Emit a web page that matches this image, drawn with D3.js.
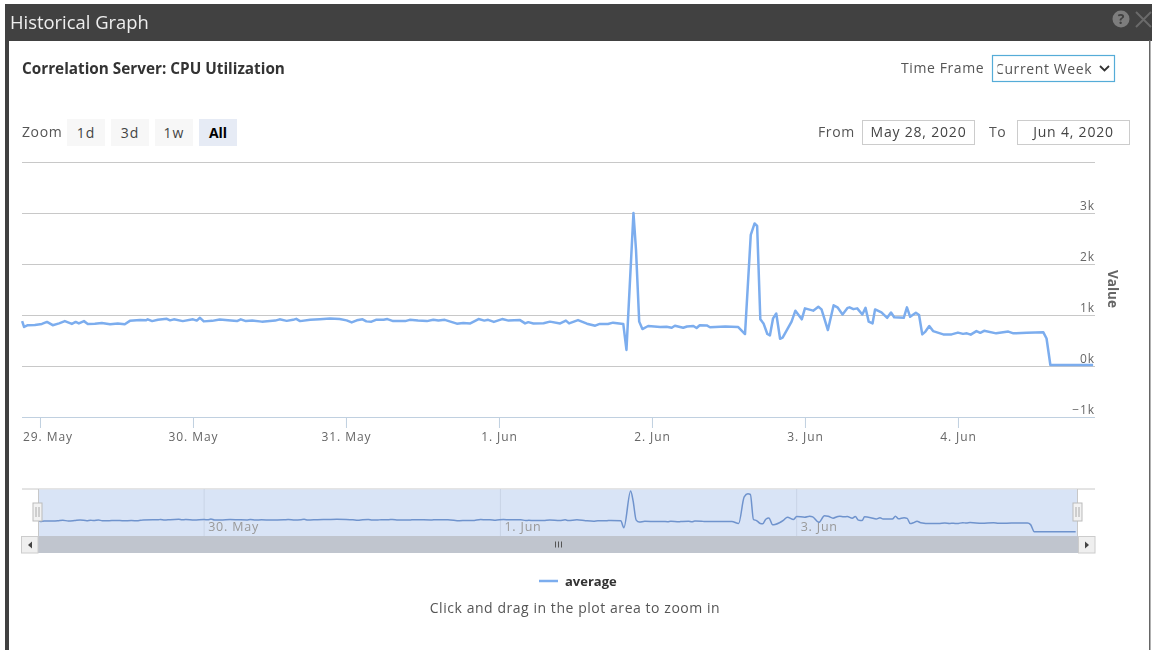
<!DOCTYPE html>
<html>
<head>
<meta charset="utf-8">
<title>Historical Graph</title>
<script src="https://cdn.jsdelivr.net/npm/d3@7"></script>
<style>
    html, body { margin: 0; padding: 0; background: #fff; overflow: hidden; }
    svg { display: block; font-family: "Open Sans", sans-serif; filter: blur(0.4px); }
    .axis .domain { display: none; }
    .ytick line { stroke: #c8c8c8; }
    .ytick text, .xtick text { fill: #666; font-size: 12px; letter-spacing: 0.9px; font-family: "Open Sans", sans-serif; }
    .xtick line { stroke: #c0d0e0; }
    .label { fill: #555; font-size: 14px; letter-spacing: 0.6px; }
</style>
</head>
<body>
<svg id="chart" width="1153" height="650"></svg>
<script>
// hours since 29 May 00:00 (UTC)
var hours = [-2.8, -2.5, -1.9, -0.8, 0.3, 1.1, 2, 3, 3.9, 5, 5.6, 6.1, 6.9, 7.5, 8.6, 9.7, 11, 12.2, 13.3, 14.1,
    15.7, 16.6, 16.9, 17.6, 18.5, 19.9, 20.4, 21, 22.4, 24, 24.6, 25.1, 25.7, 27, 28.2, 29.5, 30.9, 31.5, 32.3, 33.3,
    34.8, 36.9, 37.6, 38.7, 39.7, 40.2, 40.8, 42.4, 43.9, 45.5, 47, 48.1, 48.9, 49.7, 50.6, 51.2, 52, 52.7, 53.9, 54.5,
    55.4, 57.3, 58, 59.3, 60.7, 61.7, 62.5, 63.5, 65.4, 66.4, 67.5, 68.8, 69.7, 70.3, 71.2, 72.5, 73.5, 75.3, 76.1, 76.6,
    77.4, 79, 80, 81.6, 82.5, 83, 84.4, 85.8, 87.1, 87.8, 89.1, 89.9, 91.5, 92, 93.1, 93.5, 94, 94.5, 95.4, 97.3,
    98.3, 99.1, 99.6, 100.9, 101.5, 102.5, 103, 103.5, 104.6, 105.1, 106.7, 107.5, 109.5, 110.6, 111.5, 112.1, 112.5, 113, 113.5, 114.1,
    114.5, 115, 115.5, 116.1, 116.5, 117.9, 118.5, 119.5, 120, 121.3, 122.1, 122.6, 123.6, 124.5, 125.1, 125.9, 126.7, 127, 127.6, 128.2,
    129, 129.5, 130, 130.6, 131, 132, 132.9, 133.5, 134, 135.5, 136, 136.5, 137.4, 137.9, 138.4, 138.9, 139.5, 140.1, 141.7, 143,
    144, 144.8, 145.4, 146, 146.9, 147.5, 148.1, 150, 151.9, 152.7, 154.8, 157.4, 157.9, 158.5, 165.2];

var average = [880, 765, 800, 805, 825, 865, 800, 835, 880, 825, 865, 835, 880, 825, 830, 845, 820, 835, 820, 885,
    900, 895, 915, 880, 905, 925, 895, 915, 880, 915, 890, 945, 875, 885, 910, 895, 880, 915, 880, 890,
    870, 890, 915, 885, 905, 925, 880, 905, 915, 930, 920, 895, 855, 895, 915, 875, 870, 905, 905, 920,
    880, 880, 905, 890, 880, 905, 890, 905, 830, 845, 835, 920, 890, 905, 865, 920, 890, 900, 835, 860,
    835, 840, 870, 835, 890, 835, 900, 830, 790, 825, 825, 850, 825, 315, 3000, 2275, 870, 725, 784, 765,
    770, 750, 790, 750, 775, 784, 745, 800, 795, 760, 770, 775, 765, 627, 2570, 2795, 2745, 915, 835, 627,
    600, 935, 1030, 535, 555, 870, 1085, 915, 1130, 1085, 1160, 1110, 705, 1190, 1150, 1010, 1140, 1150, 1115, 1130,
    1010, 1140, 870, 835, 1110, 1050, 945, 1050, 955, 945, 1150, 965, 1045, 1000, 620, 675, 785, 685, 620, 620,
    655, 630, 640, 615, 685, 650, 690, 640, 675, 640, 650, 660, 540, 20, 20];

var yTicks = [-1000, 0, 1000, 2000, 3000, 4000];
var dayTicks = ["2020-05-29", "2020-05-30", "2020-05-31", "2020-06-01", "2020-06-02", "2020-06-03", "2020-06-04"];
var dayLabels = ["29. May", "30. May", "31. May", "1. Jun", "2. Jun", "3. Jun", "4. Jun"];
var navTicks = ["2020-05-30", "2020-06-01", "2020-06-03"];
var navLabels = ["30. May", "1. Jun", "3. Jun"];
var zoomButtons = ["1d", "3d", "1w", "All"];

var start = Date.UTC(2020, 4, 29);
function hourToDate(h) { return new Date(start + h * 3600000); }
var points = hours.map(function(h, i) { return { date: hourToDate(h), value: average[i] }; });

var margin = { top: 162, right: 58, bottom: 233, left: 22 };
var width = 1153 - margin.left - margin.right;
var height = 650 - margin.top - margin.bottom;

var svg = d3.select("#chart");

var x = d3.scaleUtc()
    .domain([hourToDate(-2.82), hourToDate(165.5)])
    .range([margin.left, margin.left + width]);

var y = d3.scaleLinear()
    .domain([-1000, 4000])
    .range([margin.top + height, margin.top]);

// navigator
var navX = d3.scaleUtc()
    .domain(x.domain())
    .range([38.6, 1077.5]);

var navY = d3.scaleLinear()
    .domain([0, 3000])
    .range([532, 491]);

drawFrame();
drawHeader();
drawMainChart();
drawNavigator();
drawLegend();

function drawFrame() {
    svg.append("rect").attr("x", 5).attr("y", 4).attr("width", 1147).attr("height", 37).attr("fill", "#414141");
    svg.append("rect").attr("x", 5).attr("y", 4).attr("width", 4).attr("height", 646).attr("fill", "#414141");
    svg.append("rect").attr("x", 1149).attr("y", 40).attr("width", 1.5).attr("height", 610).attr("fill", "#666");

    svg.append("text").attr("x", 10).attr("y", 29)
        .attr("fill", "#eee").style("font-size", "18.4px").text("Historical Graph");

    // help + close icons
    svg.append("circle").attr("cx", 1121).attr("cy", 19).attr("r", 8.5).attr("fill", "#7d7d7d");
    svg.append("text").attr("x", 1121).attr("y", 24).attr("text-anchor", "middle")
        .attr("fill", "#414141").style("font-size", "14px").style("font-weight", 700).text("?");
    svg.append("path").attr("d", "M1136,12L1151,27M1151,12L1136,27")
        .attr("stroke", "#6a6a6a").attr("stroke-width", 2).attr("fill", "none");
}

function drawHeader() {
    svg.append("text").attr("x", 22).attr("y", 74)
        .attr("fill", "#333").style("font-size", "15.3px").style("font-weight", 700)
        .text("Correlation Server: CPU Utilization");

    svg.append("text").attr("class", "label").attr("x", 901).attr("y", 73).text("Time Frame");

    // the select box, first letter is cut off in the original
    svg.append("clipPath").attr("id", "selectClip")
        .append("rect").attr("x", 997.5).attr("y", 55).attr("width", 113).attr("height", 27);
    svg.append("rect").attr("x", 992.5).attr("y", 55.5).attr("width", 122).attr("height", 26)
        .attr("fill", "#fff").attr("stroke", "#55acd8").attr("stroke-width", 1.2);
    svg.append("text").attr("class", "label").attr("x", 995).attr("y", 74)
        .attr("clip-path", "url(#selectClip)").text("Current Week");
    svg.append("path").attr("d", "M1100,66L1104.5,70.5L1109,66")
        .attr("fill", "none").attr("stroke", "#333").attr("stroke-width", 1.8);

    // zoom buttons
    svg.append("text").attr("class", "label").attr("x", 22).attr("y", 137).text("Zoom");
    var btn = svg.selectAll("g.zoomBtn")
        .data(zoomButtons)
        .enter()
        .append("g")
        .attr("class", "zoomBtn")
        .attr("transform", function(d, i) { return "translate(" + (67 + i * 44) + ",119)"; });
    btn.append("rect").attr("width", 38).attr("height", 27)
        .attr("fill", function(d) { return d == "All" ? "#e6ebf5" : "#f7f7f7"; });
    btn.append("text").attr("x", 19).attr("y", 18.5).attr("text-anchor", "middle")
        .attr("fill", function(d) { return d == "All" ? "#000" : "#444"; })
        .style("font-size", "14px")
        .style("letter-spacing", function(d) { return d == "All" ? "0" : "1px"; })
        .style("font-weight", function(d) { return d == "All" ? 700 : 400; })
        .text(function(d) { return d; });

    // date inputs
    svg.append("text").attr("class", "label").attr("x", 818).attr("y", 137).text("From");
    svg.append("text").attr("class", "label").attr("x", 989).attr("y", 137).text("To");
    [[862.5, "May 28, 2020"], [1017.5, "Jun 4, 2020"]].forEach(function(f) {
        svg.append("rect").attr("x", f[0]).attr("y", 120.5).attr("width", 112).attr("height", 24)
            .attr("fill", "#fff").attr("stroke", "#ccc");
        svg.append("text").attr("class", "label").attr("x", f[0] + 56).attr("y", 137)
            .attr("text-anchor", "middle").style("fill", "#444").style("letter-spacing", "0.8px").text(f[1]);
    });
}

function drawMainChart() {
    var yAxis = d3.axisRight(y)
        .tickValues(yTicks)
        .tickSize(-width)
        .tickFormat(function(d) {
            if (d == 4000) return "";
            return (d < 0 ? "\u2212" : "") + Math.abs(d) / 1000 + "k";
        });

    svg.append("g")
        .attr("class", "axis ytick")
        .attr("transform", "translate(" + (margin.left + width) + ",0)")
        .call(yAxis)
        .selectAll("text")
        .attr("x", 0)
        .attr("dy", "-4px")
        .attr("text-anchor", "end");

    var xAxis = d3.axisBottom(x)
        .tickValues(dayTicks.map(function(d) { return new Date(d + "T00:00:00Z"); }))
        .tickSize(11)
        .tickFormat(function(d, i) { return dayLabels[i]; });

    var xg = svg.append("g")
        .attr("class", "axis xtick")
        .attr("transform", "translate(0," + (margin.top + height) + ")")
        .call(xAxis);
    xg.selectAll("text").attr("y", 13.5).attr("dy", "0.85em");
    // first label gets pushed right so it stays inside the plot
    xg.select(".tick text").attr("x", 7.5);

    svg.append("line")
        .attr("x1", margin.left).attr("x2", margin.left + width)
        .attr("y1", margin.top + height + 0.5).attr("y2", margin.top + height + 0.5)
        .attr("stroke", "#c0d0e0");

    svg.append("text")
        .attr("transform", "translate(1108,289) rotate(90)")
        .attr("text-anchor", "middle")
        .attr("fill", "#666").style("font-size", "13.5px").style("font-weight", 700)
        .text("Value");

    var line = d3.line()
        .x(function(d) { return x(d.date); })
        .y(function(d) { return y(d.value); });

    svg.append("path")
        .datum(points)
        .attr("d", line)
        .attr("fill", "none")
        .attr("stroke", "#7cadee")
        .attr("stroke-width", 2.5)
        .attr("stroke-linejoin", "round");
}

function drawNavigator() {
    var navTop = 489, navBottom = 536;

    svg.append("line").attr("x1", 22).attr("x2", 1095).attr("y1", navTop).attr("y2", navTop).attr("stroke", "#c8c8c8");

    svg.append("rect")
        .attr("x", navX.range()[0]).attr("y", navTop + 0.5)
        .attr("width", navX.range()[1] - navX.range()[0]).attr("height", navBottom - navTop - 0.5)
        .attr("fill", "#d9e4f6");

    var nav = svg.selectAll("g.navTick")
        .data(navTicks)
        .enter()
        .append("g")
        .attr("class", "navTick")
        .attr("transform", function(d) { return "translate(" + navX(new Date(d + "T00:00:00Z")) + ",0)"; });
    nav.append("line").attr("y1", navTop).attr("y2", navBottom).attr("stroke", "#c9d4e6");
    nav.append("text").attr("x", 4).attr("y", 531)
        .attr("fill", "#999").style("font-size", "12.5px").style("letter-spacing", "0.8px")
        .text(function(d, i) { return navLabels[i]; });

    var navLine = d3.line()
        .curve(d3.curveMonotoneX)
        .x(function(d) { return navX(d.date); })
        .y(function(d) { return navY(d.value); });

    svg.append("path")
        .datum(points)
        .attr("d", navLine)
        .attr("fill", "none")
        .attr("stroke", "#6f93cd")
        .attr("stroke-width", 1.5);

    // edges of the selected range
    [38.5, 1077.5].forEach(function(ex) {
        svg.append("line").attr("x1", ex).attr("x2", ex).attr("y1", navTop).attr("y2", navBottom).attr("stroke", "#c8c8c8");
        svg.append("rect").attr("x", ex - 5.5 + (ex > 500 ? 1 : 0)).attr("y", 503).attr("width", 9).attr("height", 18)
            .attr("fill", "#f2f2f2").attr("stroke", "#bbb");
        svg.append("path").attr("d", "M" + (ex - 2.5 + (ex > 500 ? 1 : 0)) + ",507V517M" + (ex + 0.5 + (ex > 500 ? 1 : 0)) + ",507V517")
            .attr("stroke", "#aaa").attr("fill", "none");
    });

    // scrollbar
    svg.append("rect").attr("x", 38).attr("y", navBottom).attr("width", 1040).attr("height", 17).attr("fill", "#c0c5ce");
    svg.append("path").attr("d", "M555.5,541.5v6M558.5,541.5v6M561.5,541.5v6").attr("stroke", "#555").attr("fill", "none");
    [[21, "M32,541.5v7l-4,-3.5z"], [1078, "M1085,541.5v7l4,-3.5z"]].forEach(function(b) {
        svg.append("rect").attr("x", b[0] + 0.5).attr("y", navBottom + 0.5).attr("width", 16.5).attr("height", 16.5)
            .attr("fill", "#efefef").attr("stroke", "#ccc");
        svg.append("path").attr("d", b[1]).attr("fill", "#444");
    });
}

function drawLegend() {
    svg.append("line").attr("x1", 539).attr("x2", 558).attr("y1", 581).attr("y2", 581)
        .attr("stroke", "#7cadee").attr("stroke-width", 2.5);
    svg.append("text").attr("x", 565).attr("y", 585.5)
        .attr("fill", "#333").style("font-size", "13px").style("font-weight", 700).text("average");
    svg.append("text").attr("x", 575).attr("y", 613).attr("text-anchor", "middle")
        .attr("fill", "#555").style("font-size", "14px").style("letter-spacing", "0.55px")
        .text("Click and drag in the plot area to zoom in");
}
</script>
</body>
</html>
